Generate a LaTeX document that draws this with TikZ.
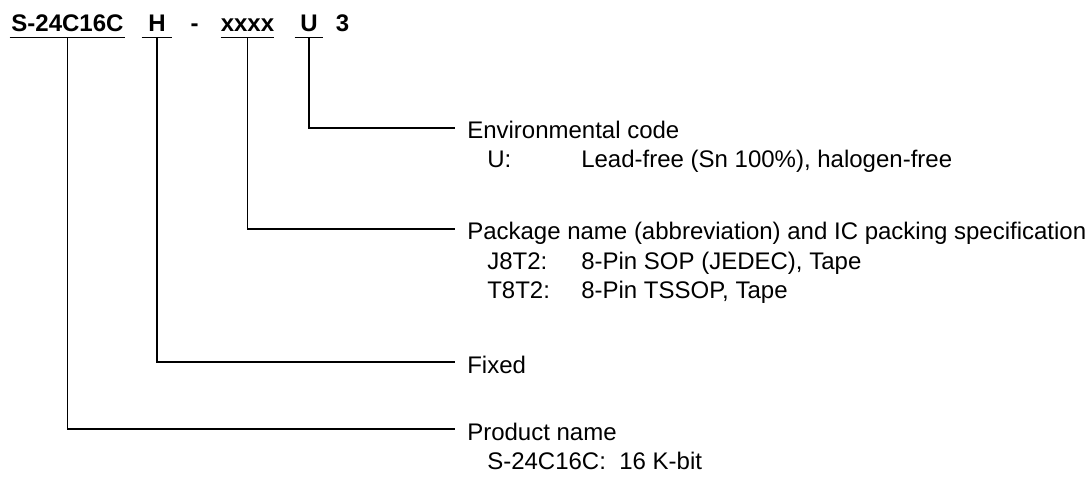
\documentclass[tikz,border=0pt]{standalone}
\usepackage{fontspec}
\setmainfont{Liberation Sans}

\begin{document}
\begin{tikzpicture}[x=0.75pt, y=-0.75pt, font=\fontsize{18}{22}\selectfont,
    every part/.style={font=\fontsize{18}{22}\selectfont\bfseries, anchor=base, inner xsep=0pt, inner ysep=3.75pt, text depth=0pt},
    every head/.style={anchor=west, inner xsep=9pt, inner ysep=0pt, text height=16.5pt, text depth=0pt},
    every item/.style={anchor=base west, inner sep=0pt},
    every link/.style={line width=1pt}]

    \useasboundingbox (0, 0) rectangle (1088, 477);

    % Parts of the product code
    \node[every part, minimum width=86.25pt] (P-name) at (67.5, 32) {S-24C16C};
    \node[every part, minimum width=22.5pt] (P-fix) at (157, 32) {H};
    \node[every part] (P-dash) at (194.5, 32) {-};
    \node[every part, minimum width=38.25pt] (P-pkg) at (247.5, 32) {xxxx};
    \node[every part, minimum width=21pt] (P-env) at (309, 32) {U};
    \node[every part] (P-rev) at (342.5, 32) {3};

    % Headings of the explanations
    \node[every head] (H-env) at (455, 128) {Environmental code};
    \node[every head] (H-pkg) at (455, 229) {Package name (abbreviation) and IC packing specification};
    \node[every head] (H-fix) at (455, 362) {Fixed};
    \node[every head] (H-name) at (455, 429) {Product name};

    % Lines under the headings
    \node[every item] (D-env) at (487, 168) {\makebox[70.5pt][l]{U:}Lead-free (Sn 100\%), halogen-free};
    \node[every item] (D-pkg1) at (487, 269) {\makebox[70.5pt][l]{J8T2:}8-Pin SOP (JEDEC), Tape};
    \node[every item] (D-pkg2) at (487, 298) {\makebox[70.5pt][l]{T8T2:}8-Pin TSSOP, Tape};
    \node[every item] (D-name) at (487, 469) {S-24C16C:\ \ 16 K-bit};

    % Underlines and leaders from each part to its heading
    \foreach \p in {name, fix, pkg, env}
    {
        \draw[every link] (P-\p.south west) -- (P-\p.south east);
        \draw[every link] (P-\p.south) |- (H-\p.west);
    }

\end{tikzpicture}
\end{document}
